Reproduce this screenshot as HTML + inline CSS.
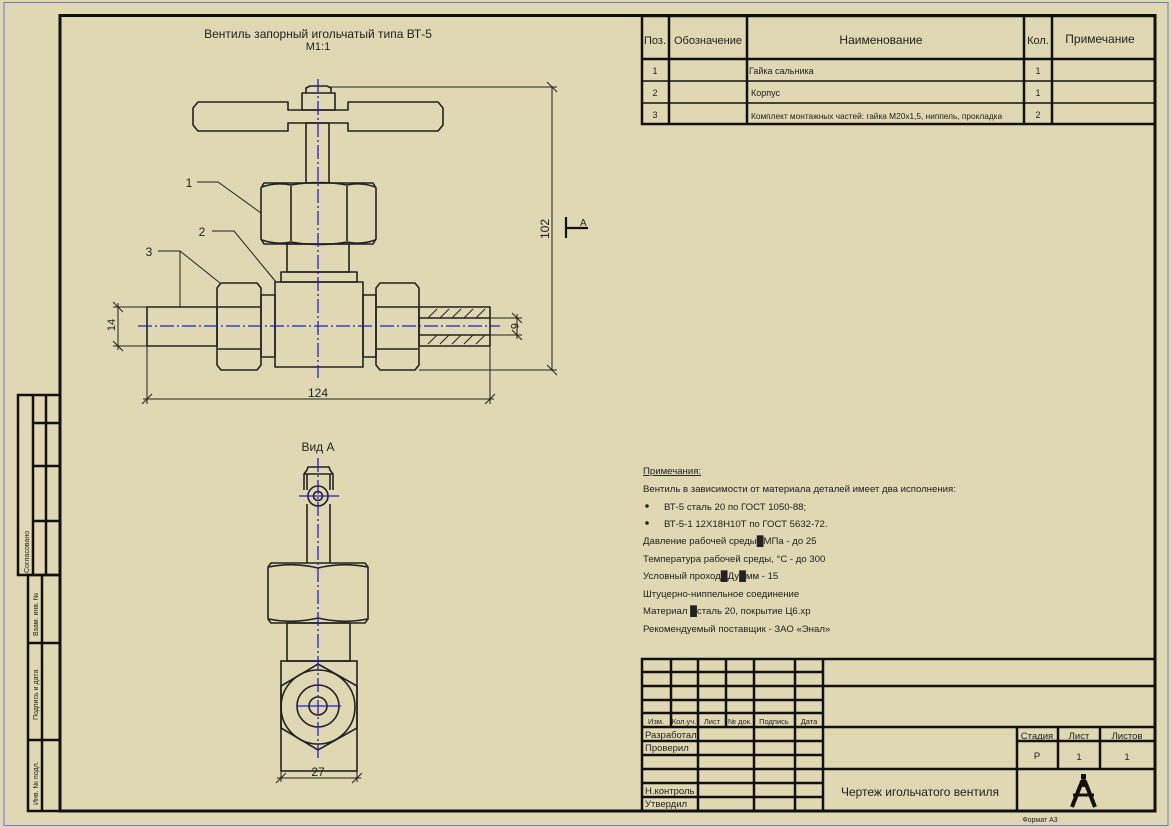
<!DOCTYPE html>
<html><head><meta charset="utf-8"><style>
html,body{margin:0;padding:0;background:#e0d7b3;}
svg{display:block;font-family:"Liberation Sans",sans-serif;}
</style></head><body>
<svg width="1172" height="828" viewBox="0 0 1172 828" xmlns="http://www.w3.org/2000/svg">
<rect x="0" y="0" width="1172" height="828" fill="#e0d7b3"/>
<rect x="4" y="2.5" width="1164" height="823" fill="none" stroke="#7a72c8" stroke-width="1"/>
<rect x="60" y="15.5" width="1095" height="795.5" fill="none" stroke="#111" stroke-width="3"/>

<g stroke="#111" stroke-width="2.5" fill="none">
<rect x="18" y="395" width="42" height="180"/>
<line x1="33" y1="395" x2="33" y2="575"/>
<line x1="46" y1="395" x2="46" y2="575"/>
<line x1="33" y1="423" x2="60" y2="423"/>
<line x1="33" y1="466" x2="60" y2="466"/>
<line x1="33" y1="521" x2="60" y2="521"/>
<rect x="28" y="575" width="32" height="236"/>
<line x1="42" y1="575" x2="42" y2="811"/>
<line x1="28" y1="643" x2="60" y2="643"/>
<line x1="28" y1="740" x2="60" y2="740"/>
</g>
<g font-size="7" fill="#222">
<text transform="translate(29,573) rotate(-90)">Согласовано</text>
<text transform="translate(38,636) rotate(-90)">Взам. инв. №</text>
<text transform="translate(38,720) rotate(-90)">Подпись и дата</text>
<text transform="translate(38,805) rotate(-90)">Инв. № подл.</text>
</g>

<g stroke="#111" stroke-width="2.5" fill="none">
<rect x="642" y="16" width="513" height="108"/>
<line x1="642" y1="59" x2="1155" y2="59"/>
<line x1="642" y1="81" x2="1155" y2="81" stroke-width="1.5"/>
<line x1="642" y1="103" x2="1155" y2="103" stroke-width="1.5"/>
<line x1="669" y1="16" x2="669" y2="124"/>
<line x1="747" y1="16" x2="747" y2="124"/>
<line x1="1024" y1="16" x2="1024" y2="124"/>
<line x1="1052" y1="16" x2="1052" y2="124"/>
</g>
<g fill="#222">
<text x="655" y="44" font-size="11" text-anchor="middle">Поз.</text>
<text x="708" y="44" font-size="11" text-anchor="middle">Обозначение</text>
<text x="881" y="44" font-size="12" text-anchor="middle">Наименование</text>
<text x="1038" y="44" font-size="11" text-anchor="middle">Кол.</text>
<text x="1100" y="43" font-size="12" text-anchor="middle">Примечание</text>
<text x="655" y="74" font-size="9" text-anchor="middle">1</text>
<text x="655" y="96" font-size="9" text-anchor="middle">2</text>
<text x="655" y="118" font-size="9" text-anchor="middle">3</text>
<text x="749" y="74" font-size="9">Гайка сальника</text>
<text x="751" y="96" font-size="9">Корпус</text>
<text x="751" y="119" font-size="8.3">Комплект монтажных частей: гайка М20х1,5, ниппель, прокладка</text>
<text x="1038" y="74" font-size="9" text-anchor="middle">1</text>
<text x="1038" y="96" font-size="9" text-anchor="middle">1</text>
<text x="1038" y="118" font-size="9" text-anchor="middle">2</text>
</g>

<text x="318" y="38" font-size="12" text-anchor="middle" fill="#222">Вентиль запорный игольчатый типа ВТ-5</text>
<text x="318" y="50" font-size="11" text-anchor="middle" fill="#222">М1:1</text>

<g stroke="#222" stroke-width="1.6" fill="none" stroke-linejoin="round">
<path d="M198,102 L288,102 L288,110 L348,110 L348,102 L438,102 L443,108 L443,125 L438,131 L348,131 L348,123 L288,123 L288,131 L198,131 L193,125 L193,108 Z"/>
<rect x="302" y="93" width="33" height="17"/>
<path d="M306,93 L306,88 L310,86 L327,86 L331,88 L331,93"/>
<rect x="306" y="123" width="23" height="60"/>
<path d="M264,183 L373,183 L376,188 L376,239 L373,244 L264,244 L261,239 L261,188 Z"/>
<line x1="291" y1="186" x2="291" y2="241"/>
<line x1="347" y1="186" x2="347" y2="241"/>
<path d="M262,187 Q276,182 291,185 Q319,180 347,185 Q362,182 375,187"/>
<path d="M262,240 Q276,245 291,242 Q319,247 347,242 Q362,245 375,240"/>
<rect x="287" y="244" width="62" height="28"/>
<rect x="281" y="272" width="76" height="10"/>
<rect x="275" y="282" width="88" height="85"/>
<rect x="261" y="295" width="14" height="62"/>
<rect x="363" y="295" width="13" height="62"/>
<path d="M221,283 L257,283 L261,288 L261,365 L257,370 L221,370 L217,365 L217,288 Z"/>
<line x1="218" y1="307" x2="260" y2="307"/>
<line x1="218" y1="349" x2="260" y2="349"/>
<path d="M380,283 L415,283 L419,288 L419,365 L415,370 L380,370 L376,365 L376,288 Z"/>
<line x1="377" y1="307" x2="418" y2="307"/>
<line x1="377" y1="349" x2="418" y2="349"/>
<rect x="147" y="307" width="70" height="39"/>
<rect x="419" y="307" width="71" height="39"/>
<line x1="419" y1="318" x2="490" y2="318"/>
<line x1="419" y1="335" x2="490" y2="335"/>
</g>
<g stroke="#222" stroke-width="1">
<path d="M428,318 L437,309 M440,318 L449,309 M452,318 L461,309 M464,318 L473,309 M476,318 L485,309 M428,344 L437,335 M440,344 L449,335 M452,344 L461,335 M464,344 L473,335 M476,344 L485,335"/>
</g>
<g stroke="#2020d0" stroke-width="1.3" stroke-dasharray="14,3,2,3" fill="none">
<line x1="138" y1="326" x2="500" y2="326"/>
<line x1="318" y1="79" x2="318" y2="378"/>
</g>
<g stroke="#222" stroke-width="1" fill="none">
<line x1="328" y1="87" x2="557" y2="87"/>
<line x1="419" y1="370" x2="557" y2="370"/>
<line x1="552" y1="87" x2="552" y2="370"/>
<line x1="547" y1="82" x2="557" y2="92"/><line x1="547" y1="365" x2="557" y2="375"/>
<line x1="147" y1="346" x2="147" y2="404"/>
<line x1="490" y1="346" x2="490" y2="404"/>
<line x1="143" y1="399" x2="494" y2="399"/>
<line x1="142" y1="404" x2="152" y2="394"/><line x1="485" y1="404" x2="495" y2="394"/>
<line x1="113" y1="307" x2="147" y2="307"/>
<line x1="113" y1="346" x2="147" y2="346"/>
<line x1="118" y1="303" x2="118" y2="350"/>
<line x1="113" y1="302" x2="123" y2="312"/><line x1="113" y1="341" x2="123" y2="351"/>
<line x1="490" y1="318" x2="522" y2="318"/>
<line x1="490" y1="335" x2="522" y2="335"/>
<line x1="517" y1="314" x2="517" y2="339"/>
<line x1="512" y1="313" x2="522" y2="323"/><line x1="512" y1="330" x2="522" y2="340"/>
<path d="M197,182 L218,182 L261,213"/>
<path d="M212,231 L234,231 L276,282"/>
<path d="M158,251 L180,251 L220,283 M180,251 L180,307"/>
</g>
<path d="M566,217 L566,238 M566,228 L588,228" stroke="#111" stroke-width="2.2" fill="none"/>
<text x="580" y="226" font-size="10" fill="#222">A</text>
<g fill="#222" font-size="12">
<text x="318" y="397" text-anchor="middle">124</text>
<text transform="translate(549,229) rotate(-90)" text-anchor="middle">102</text>
<text transform="translate(115,325) rotate(-90)" text-anchor="middle" font-size="11">14</text>
<text transform="translate(511,326) rotate(90)" text-anchor="middle" font-size="11">6</text>
<text x="189" y="187" text-anchor="middle">1</text>
<text x="202" y="236" text-anchor="middle">2</text>
<text x="149" y="256" text-anchor="middle">3</text>
<text x="318" y="451" text-anchor="middle">Вид А</text>
<text x="318" y="776" text-anchor="middle">27</text>
</g>

<g stroke="#222" stroke-width="1.6" fill="none">
<path d="M304,490 L304,474 L307,470 L308,467 L329,467 L330,470 L333,474 L333,490"/>
<line x1="304" y1="474" x2="333" y2="474"/>
<line x1="307" y1="474" x2="307" y2="490"/><line x1="330" y1="474" x2="330" y2="490"/>
<circle cx="318" cy="496" r="10"/>
<circle cx="318" cy="496" r="4.5"/>
<line x1="307" y1="504" x2="307" y2="563"/><line x1="330" y1="504" x2="330" y2="563"/>
<path d="M271,563 L365,563 L368,567 L368,619 L365,623 L271,623 L268,619 L268,567 Z"/>
<path d="M269,567 Q293,562 318,568 Q343,562 367,567"/>
<path d="M269,619 Q293,624 318,618 Q343,624 367,619"/>
<rect x="287" y="623" width="63" height="38"/>
<rect x="281" y="661" width="76" height="110"/>
<path d="M318,664 L357,686 L357,728 L318,750 L281,728 L281,686 Z"/>
<circle cx="318" cy="707" r="37"/>
<circle cx="318" cy="706" r="21"/>
<circle cx="318" cy="706" r="9"/>
</g>
<g stroke="#2020d0" stroke-width="1.3" fill="none">
<line x1="318" y1="458" x2="318" y2="760" stroke-dasharray="14,3,2,3"/>
<line x1="299" y1="496" x2="339" y2="496"/>
<line x1="297" y1="706" x2="341" y2="706"/>
</g>
<g stroke="#222" stroke-width="1" fill="none">
<line x1="281" y1="771" x2="281" y2="782"/><line x1="357" y1="771" x2="357" y2="782"/>
<line x1="277" y1="778" x2="361" y2="778"/>
<line x1="276" y1="783" x2="286" y2="773"/><line x1="352" y1="783" x2="362" y2="773"/>
</g>

<g fill="#222" font-size="9.6">
<text x="643" y="474" text-decoration="underline">Примечания:</text>
<text x="643" y="492">Вентиль в зависимости от материала деталей имеет два исполнения:</text>
<circle cx="647" cy="506" r="1.8"/>
<text x="664" y="510">ВТ-5 сталь 20 по ГОСТ 1050-88;</text>
<circle cx="647" cy="523" r="1.8"/>
<text x="664" y="527">ВТ-5-1 12Х18Н10Т по ГОСТ 5632-72.</text>
<text x="643" y="544">Давление рабочей среды█МПа - до 25</text>
<text x="643" y="562">Температура рабочей среды, °С - до 300</text>
<text x="643" y="579">Условный проход█Ду█мм - 15</text>
<text x="643" y="597">Штуцерно-ниппельное соединение</text>
<text x="643" y="614">Материал █сталь 20, покрытие Ц6.хр</text>
<text x="643" y="632">Рекомендуемый поставщик - ЗАО «Энал»</text>
</g>

<g stroke="#111" stroke-width="2.5" fill="none">
<rect x="642" y="659" width="513" height="152"/>
<line x1="642" y1="672" x2="823" y2="672"/>
<line x1="642" y1="686" x2="1155" y2="686"/>
<line x1="642" y1="700" x2="823" y2="700"/>
<line x1="642" y1="713" x2="823" y2="713"/>
<line x1="642" y1="727" x2="1155" y2="727"/>
<line x1="642" y1="741" x2="823" y2="741"/>
<line x1="642" y1="755" x2="823" y2="755"/>
<line x1="642" y1="769" x2="1155" y2="769"/>
<line x1="642" y1="783" x2="823" y2="783"/>
<line x1="642" y1="797" x2="823" y2="797"/>
<line x1="671" y1="659" x2="671" y2="727"/>
<line x1="698" y1="659" x2="698" y2="811"/>
<line x1="726" y1="659" x2="726" y2="727"/>
<line x1="754" y1="659" x2="754" y2="811"/>
<line x1="795" y1="659" x2="795" y2="811"/>
<line x1="823" y1="659" x2="823" y2="811"/>
<line x1="1017" y1="727" x2="1017" y2="811"/>
<line x1="1058" y1="727" x2="1058" y2="769"/>
<line x1="1100" y1="727" x2="1100" y2="769"/>
<line x1="1017" y1="741" x2="1155" y2="741"/>
</g>
<g fill="#222" font-size="7.5">
<text x="656" y="724" text-anchor="middle">Изм.</text>
<text x="684" y="724" text-anchor="middle">Кол.уч.</text>
<text x="712" y="724" text-anchor="middle">Лист</text>
<text x="740" y="724" text-anchor="middle">№ док.</text>
<text x="774" y="724" text-anchor="middle">Подпись</text>
<text x="809" y="724" text-anchor="middle">Дата</text>
</g>
<g fill="#222" font-size="9.5">
<text x="645" y="738">Разработал</text>
<text x="645" y="751">Проверил</text>
<text x="645" y="794">Н.контроль</text>
<text x="645" y="807">Утвердил</text>
<text x="1037" y="739" text-anchor="middle">Стадия</text>
<text x="1079" y="739" text-anchor="middle">Лист</text>
<text x="1127" y="739" text-anchor="middle">Листов</text>
<text x="1037" y="759" text-anchor="middle">Р</text>
<text x="1079" y="760" text-anchor="middle">1</text>
<text x="1127" y="760" text-anchor="middle">1</text>
</g>
<text x="920" y="796" font-size="12" text-anchor="middle" fill="#222">Чертеж игольчатого вентиля</text>
<text x="1040" y="822" font-size="7" text-anchor="middle" fill="#222">Формат А3</text>
<g fill="#111" stroke="#111">
<rect x="1081" y="774" width="5" height="5" stroke="none"/>
<circle cx="1083.5" cy="783" r="4" stroke="none"/>
<path d="M1081,784 L1072,807 M1086,784 L1095,807" stroke-width="4" fill="none"/>
<path d="M1073,795 L1094,795" stroke-width="3"/>
</g>
</svg>
</body></html>
